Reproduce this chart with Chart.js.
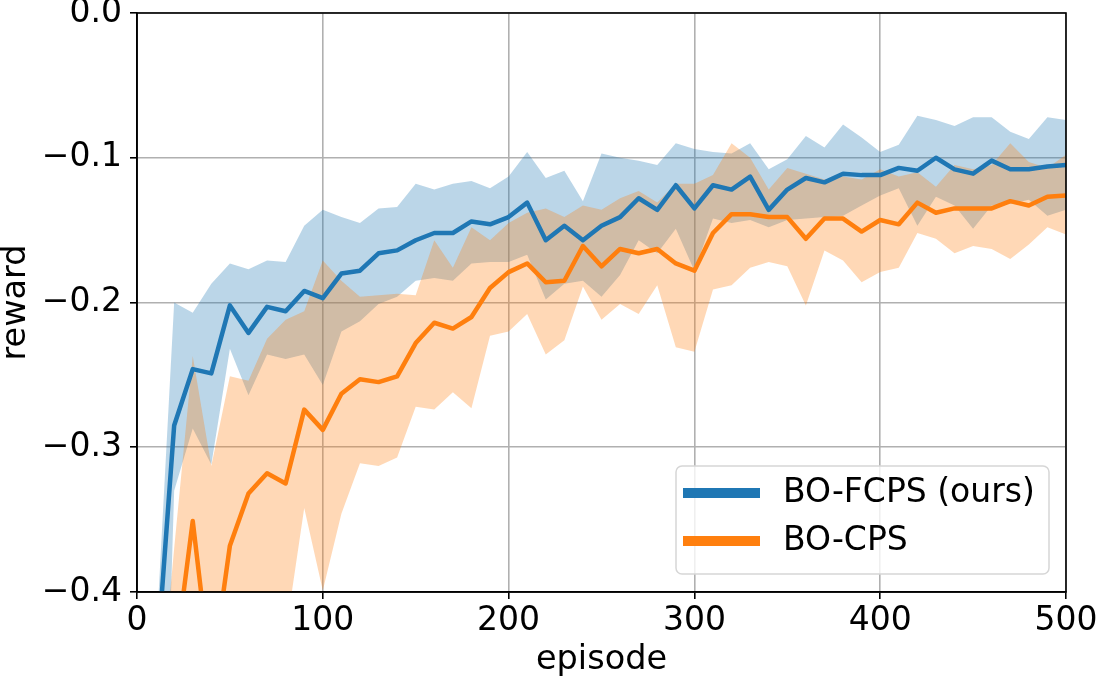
<!DOCTYPE html>
<html>
<head>
<meta charset="utf-8">
<script src="https://cdn.jsdelivr.net/npm/chart.js@4.4.1/dist/chart.umd.min.js"></script>
<style>
    html, body { margin: 0; padding: 0; background: #fff; }
    #wrap { width: 1098px; height: 680px; }
</style>
</head>
<body>
<div id="wrap"><canvas id="grafico" width="1098" height="680"></canvas></div>
<script>
// episodios (eixo x)
const episodios = [10, 20, 30, 40, 50, 60, 70, 80, 90, 100,
    110, 120, 130, 140, 150, 160, 170, 180, 190, 200,
    210, 220, 230, 240, 250, 260, 270, 280, 290, 300,
    310, 320, 330, 340, 350, 360, 370, 380, 390, 400,
    410, 420, 430, 440, 450, 460, 470, 480, 490, 500];

// BO-FCPS (ours)
const fcpsMedia = [-0.460, -0.285, -0.246, -0.249, -0.202, -0.221, -0.203, -0.206, -0.192, -0.197,
    -0.180, -0.178, -0.166, -0.164, -0.157, -0.152, -0.152, -0.144, -0.146, -0.141,
    -0.131, -0.157, -0.147, -0.157, -0.147, -0.141, -0.128, -0.136, -0.119, -0.135,
    -0.119, -0.122, -0.113, -0.136, -0.122, -0.114, -0.117, -0.111, -0.112, -0.112,
    -0.107, -0.109, -0.100, -0.108, -0.111, -0.102, -0.108, -0.108, -0.106, -0.105];
const fcpsSup = [-0.440, -0.200, -0.207, -0.187, -0.173, -0.177, -0.171, -0.172, -0.147, -0.136,
    -0.141, -0.145, -0.135, -0.134, -0.118, -0.122, -0.118, -0.116, -0.121, -0.113,
    -0.096, -0.114, -0.109, -0.130, -0.097, -0.100, -0.102, -0.105, -0.090, -0.094,
    -0.096, -0.097, -0.090, -0.108, -0.101, -0.085, -0.093, -0.077, -0.086, -0.096,
    -0.091, -0.071, -0.074, -0.078, -0.072, -0.072, -0.082, -0.087, -0.072, -0.074];
const fcpsInf = [-0.750, -0.330, -0.287, -0.312, -0.232, -0.264, -0.236, -0.239, -0.236, -0.257,
    -0.220, -0.213, -0.201, -0.196, -0.185, -0.183, -0.185, -0.173, -0.172, -0.172,
    -0.167, -0.198, -0.187, -0.185, -0.196, -0.181, -0.157, -0.166, -0.149, -0.178,
    -0.142, -0.145, -0.143, -0.148, -0.143, -0.142, -0.141, -0.140, -0.133, -0.126,
    -0.121, -0.147, -0.127, -0.133, -0.149, -0.133, -0.132, -0.129, -0.140, -0.136];

// BO-CPS
const cpsMedia = [-0.550, -0.451, -0.351, -0.460, -0.368, -0.332, -0.318, -0.325, -0.274, -0.288,
    -0.263, -0.253, -0.255, -0.251, -0.228, -0.214, -0.218, -0.210, -0.190, -0.179,
    -0.173, -0.186, -0.185, -0.161, -0.175, -0.163, -0.166, -0.163, -0.173, -0.178,
    -0.152, -0.139, -0.139, -0.141, -0.141, -0.156, -0.142, -0.142, -0.151, -0.143,
    -0.146, -0.131, -0.138, -0.135, -0.135, -0.135, -0.130, -0.133, -0.127, -0.126];
const cpsSup = [-0.510, -0.370, -0.237, -0.313, -0.251, -0.254, -0.225, -0.212, -0.206, -0.171,
    -0.185, -0.196, -0.195, -0.194, -0.195, -0.157, -0.176, -0.148, -0.157, -0.145,
    -0.138, -0.135, -0.141, -0.133, -0.136, -0.128, -0.123, -0.131, -0.118, -0.118,
    -0.112, -0.090, -0.100, -0.122, -0.107, -0.111, -0.115, -0.113, -0.115, -0.108,
    -0.113, -0.110, -0.120, -0.105, -0.108, -0.105, -0.090, -0.103, -0.107, -0.098];
const cpsInf = [-0.800, -0.750, -0.700, -0.650, -0.550, -0.500, -0.460, -0.429, -0.342, -0.399,
    -0.346, -0.311, -0.313, -0.307, -0.272, -0.274, -0.262, -0.273, -0.223, -0.220,
    -0.208, -0.236, -0.226, -0.189, -0.212, -0.201, -0.208, -0.188, -0.231, -0.234,
    -0.191, -0.188, -0.176, -0.172, -0.175, -0.202, -0.164, -0.171, -0.186, -0.179,
    -0.176, -0.152, -0.156, -0.166, -0.161, -0.163, -0.170, -0.160, -0.148, -0.153];

const ticksX = [0, 100, 200, 300, 400, 500];
const ticksY = [-0.4, -0.3, -0.2, -0.1, 0.0];

const AZUL = "#1f77b4";
const LARANJA = "#ff7f0e";
const FONTE = "'DejaVu Sans', 'Liberation Sans', sans-serif";

function pontos(valores) {
    return episodios.map((ep, i) => ({ x: ep, y: valores[i] }));
}

function fmtY(v) {
    if (Math.abs(v) < 1e-9) return "0.0";
    return "\u2212" + Math.abs(v).toFixed(1);
}

// moldura completa (top e right tambem)
const moldura = {
    id: "moldura",
    afterDatasetsDraw(chart) {
        const { ctx, chartArea: a } = chart;
        ctx.save();
        ctx.strokeStyle = "#000";
        ctx.lineWidth = 1.6;
        ctx.strokeRect(a.left, a.top, a.right - a.left, a.bottom - a.top);
        ctx.restore();
    }
};

// legenda dentro da area, canto inferior direito
const legendaInterna = {
    id: "legendaInterna",
    afterDraw(chart) {
        const { ctx, chartArea: a } = chart;
        const itens = chart.data.datasets.filter(d => d.legenda);
        const w = 373, h = 108;
        const x = a.right - 17 - w;
        const y = a.bottom - 18 - h;
        ctx.save();
        ctx.beginPath();
        ctx.roundRect(x, y, w, h, 6);
        ctx.fillStyle = "rgba(255,255,255,0.8)";
        ctx.fill();
        ctx.strokeStyle = "#d6d6d6";
        ctx.lineWidth = 1.5;
        ctx.stroke();
        ctx.font = "33px " + FONTE;
        ctx.textBaseline = "middle";
        itens.forEach((d, i) => {
            const yy = y + 27 + i * 48;
            ctx.strokeStyle = d.borderColor;
            ctx.lineWidth = 10;
            ctx.beginPath();
            ctx.moveTo(x + 7, yy);
            ctx.lineTo(x + 84, yy);
            ctx.stroke();
            ctx.fillStyle = "#000";
            ctx.fillText(d.label, x + 107, yy);
        });
        ctx.restore();
    }
};

const ctx = document.getElementById("grafico");

new Chart(ctx, {
    type: "line",
    data: {
        datasets: [
            { label: "fcps_inf", data: pontos(fcpsInf), borderWidth: 0, pointRadius: 0, fill: false, order: 10, clip: 0 },
            { label: "fcps_sup", data: pontos(fcpsSup), borderWidth: 0, pointRadius: 0, fill: 0,
              backgroundColor: "rgba(31,119,180,0.3)", order: 9, clip: 0 },
            { label: "cps_inf", data: pontos(cpsInf), borderWidth: 0, pointRadius: 0, fill: false, order: 8, clip: 0 },
            { label: "cps_sup", data: pontos(cpsSup), borderWidth: 0, pointRadius: 0, fill: 2,
              backgroundColor: "rgba(255,127,14,0.3)", order: 7, clip: 0 },
            { label: "BO-FCPS (ours)", legenda: true, data: pontos(fcpsMedia), borderColor: AZUL, borderWidth: 4.5,
              pointRadius: 0, fill: false, order: 2, clip: 0, borderJoinStyle: "round" },
            { label: "BO-CPS", legenda: true, data: pontos(cpsMedia), borderColor: LARANJA, borderWidth: 4.5,
              pointRadius: 0, fill: false, order: 1, clip: 0, borderJoinStyle: "round" }
        ]
    },
    options: {
        responsive: false,
        animation: false,
        devicePixelRatio: 1,
        layout: { padding: { left: 0, right: 32, top: 13, bottom: 0 } },
        plugins: {
            legend: { display: false },
            tooltip: { enabled: false }
        },
        scales: {
            x: {
                type: "linear",
                min: 0,
                max: 500,
                afterBuildTicks: s => { s.ticks = ticksX.map(v => ({ value: v })); },
                afterFit: s => { s.height = 88; s.paddingLeft = 0; s.paddingRight = 0; },
                grid: { color: "#b0b0b0", lineWidth: 1.6, tickColor: "#000", tickLength: 7, drawTicks: true },
                border: { display: true, color: "#000", width: 1.6 },
                ticks: { color: "#000", font: { family: FONTE, size: 33 }, padding: 3, maxRotation: 0 },
                title: { display: true, text: "episode", color: "#000", font: { family: FONTE, size: 33.5, lineHeight: 1.2 },
                         padding: { top: 0, bottom: 0 } }
            },
            y: {
                type: "linear",
                min: -0.4,
                max: 0.0,
                afterBuildTicks: s => { s.ticks = ticksY.map(v => ({ value: v })); },
                afterFit: s => { s.width = 137; s.paddingTop = 0; s.paddingBottom = 0; },
                grid: { color: "#b0b0b0", lineWidth: 1.6, tickColor: "#000", tickLength: 7, drawTicks: true },
                border: { display: true, color: "#000", width: 1.6 },
                ticks: { color: "#000", font: { family: FONTE, size: 33 }, padding: 8, callback: v => fmtY(v) },
                title: { display: true, text: "reward", color: "#000", font: { family: FONTE, size: 33.5, lineHeight: 0.95 },
                         padding: { top: 0, bottom: 0 } }
            }
        }
    },
    plugins: [moldura, legendaInterna]
});
</script>
</body>
</html>
